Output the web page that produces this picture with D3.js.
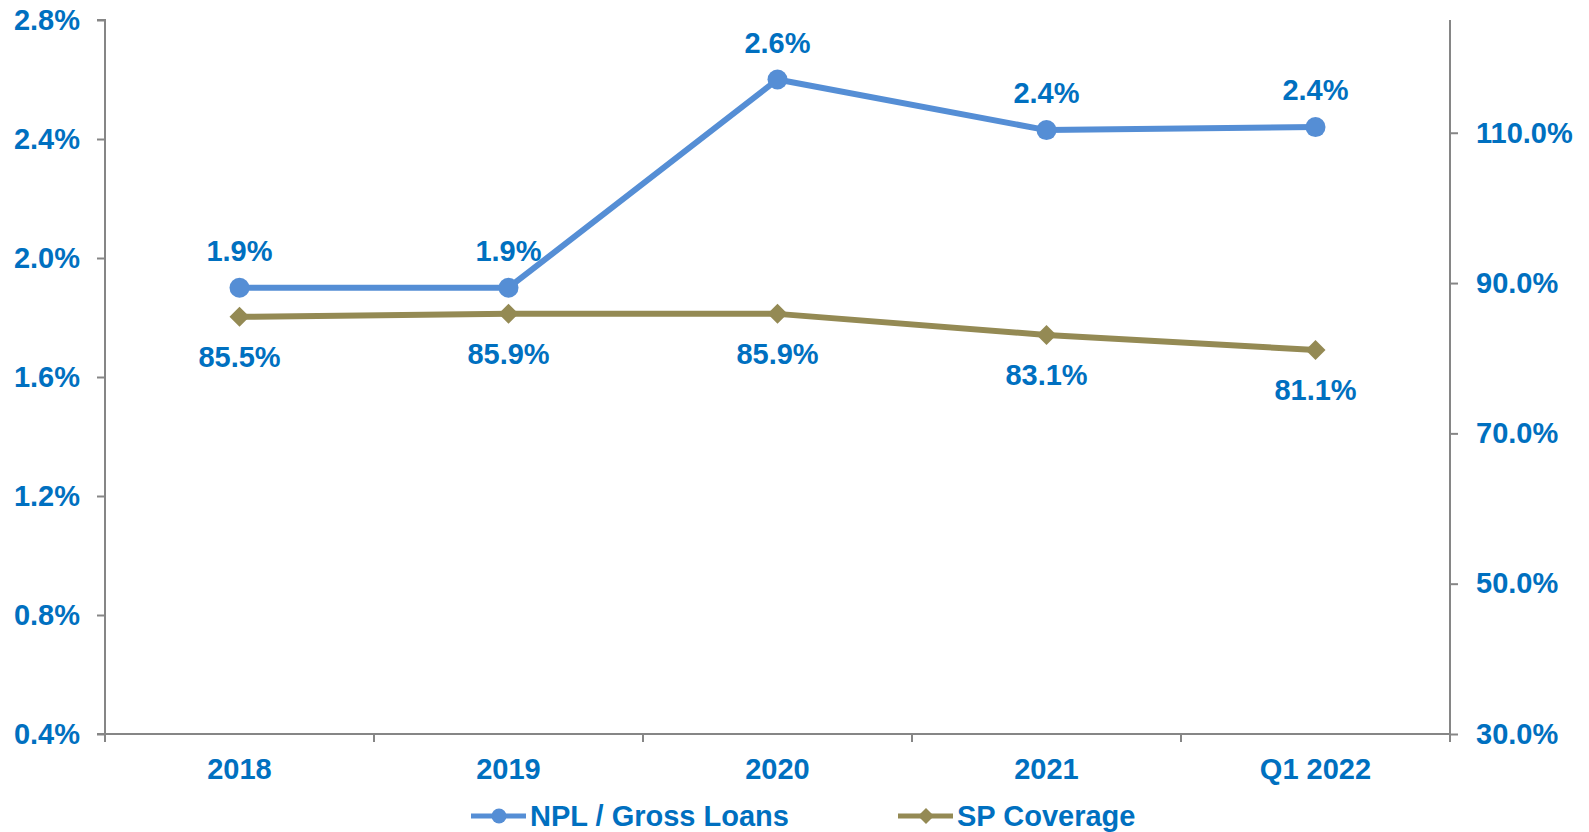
<!DOCTYPE html>
<html>
<head>
<meta charset="utf-8">
<script src="https://cdn.jsdelivr.net/npm/d3@7"></script>
<style>
  html, body { margin: 0; padding: 0; background: #ffffff; }
  svg { display: block; }
  text { font-family: "Liberation Sans", Arial, sans-serif; font-weight: bold; fill: #0070C0; }
</style>
</head>
<body>
<svg id="chart" width="1589" height="832"></svg>
<script>
// ---- data ----
const categories = ["2018", "2019", "2020", "2021", "Q1 2022"];
const nplValues = [1.90, 1.90, 2.60, 2.43, 2.44];       // NPL / Gross Loans (%)
const spValues = [85.5, 85.9, 85.9, 83.1, 81.1];        // SP Coverage (%)
const leftTicks = [0.4, 0.8, 1.2, 1.6, 2.0, 2.4, 2.8];
const rightTicks = [30, 50, 70, 90, 110];
const seriesNames = ["NPL / Gross Loans", "SP Coverage"];

// ---- layout ----
const W = 1589, H = 832;
const plot = { left: 105, right: 1450, top: 20, bottom: 734 };
const blue = "#558ED5", olive = "#948A54", axisGrey = "#868686";
const fontSize = 29;

const svg = d3.select("#chart");

const x = d3.scaleBand().domain(categories).range([plot.left, plot.right]).paddingInner(0).paddingOuter(0);
const yL = d3.scaleLinear().domain([0.4, 2.8]).range([plot.bottom, plot.top]);
const yR = d3.scaleLinear().domain([30, 125]).range([plot.bottom, plot.top]);
const cx = c => x(c) + x.bandwidth() / 2;

// diamond symbol: size = half-diagonal squared
const diamondType = { draw(ctx, size) { const r = Math.sqrt(size); ctx.moveTo(0, -r); ctx.lineTo(r, 0); ctx.lineTo(0, r); ctx.lineTo(-r, 0); ctx.closePath(); } };

// left axis
const leftAxis = d3.axisLeft(yL).tickValues(leftTicks).tickSize(8).tickPadding(17)
  .tickFormat(d => d.toFixed(1) + "%");
const gL = svg.append("g").attr("transform", `translate(${plot.left},0)`).call(leftAxis);
gL.select(".domain").attr("stroke", axisGrey).attr("stroke-width", 2).attr("d", `M-8,${plot.top}H0V${plot.bottom}H-8`);
gL.selectAll(".tick line").attr("stroke", axisGrey).attr("stroke-width", 2);
gL.selectAll(".tick text").attr("font-size", fontSize).attr("fill", "#0070C0").attr("font-family", null);

// right axis
const rightAxis = d3.axisRight(yR).tickValues(rightTicks).tickSize(8).tickPadding(18)
  .tickFormat(d => d.toFixed(1) + "%");
const gR = svg.append("g").attr("transform", `translate(${plot.right},0)`).call(rightAxis);
gR.select(".domain").attr("stroke", axisGrey).attr("stroke-width", 2).attr("d", `M0,${plot.top}V${plot.bottom}`);
gR.selectAll(".tick line").attr("stroke", axisGrey).attr("stroke-width", 2);
gR.selectAll(".tick text").attr("font-size", fontSize).attr("fill", "#0070C0").attr("font-family", null);

// bottom axis (category boundaries as ticks)
const gB = svg.append("g").attr("transform", `translate(0,${plot.bottom})`);
gB.append("line").attr("x1", plot.left).attr("x2", plot.right).attr("y1", 0).attr("y2", 0)
  .attr("stroke", axisGrey).attr("stroke-width", 2);
const boundaries = categories.map(c => x(c)).concat([plot.right]);
gB.selectAll("line.tk").data(boundaries).enter().append("line").attr("class", "tk")
  .attr("x1", d => d).attr("x2", d => d).attr("y1", 0).attr("y2", 8)
  .attr("stroke", axisGrey).attr("stroke-width", 2);
gB.selectAll("text").data(categories).enter().append("text")
  .attr("x", d => cx(d)).attr("y", 35).attr("dy", "0.35em")
  .attr("text-anchor", "middle").attr("font-size", fontSize).text(d => d);

// SP Coverage line (right axis)
const spLine = d3.line().x((d, i) => cx(categories[i])).y(d => yR(d));
svg.append("path").datum(spValues).attr("d", spLine)
  .attr("fill", "none").attr("stroke", olive).attr("stroke-width", 6).attr("stroke-linejoin", "round");
svg.selectAll("path.spm").data(spValues).enter().append("path").attr("class", "spm")
  .attr("d", d3.symbol().type(diamondType).size(100))
  .attr("transform", (d, i) => `translate(${cx(categories[i])},${yR(d)})`)
  .attr("fill", olive);

// NPL line (left axis)
const nplLine = d3.line().x((d, i) => cx(categories[i])).y(d => yL(d));
svg.append("path").datum(nplValues).attr("d", nplLine)
  .attr("fill", "none").attr("stroke", blue).attr("stroke-width", 6).attr("stroke-linejoin", "round");
svg.selectAll("circle.nplm").data(nplValues).enter().append("circle").attr("class", "nplm")
  .attr("cx", (d, i) => cx(categories[i])).attr("cy", d => yL(d)).attr("r", 10)
  .attr("fill", blue);

// data labels
svg.selectAll("text.npl").data(nplValues).enter().append("text").attr("class", "npl")
  .attr("x", (d, i) => cx(categories[i])).attr("y", d => yL(d) - 37).attr("dy", "0.35em")
  .attr("text-anchor", "middle").attr("font-size", fontSize).text(d => d.toFixed(1) + "%");
svg.selectAll("text.sp").data(spValues).enter().append("text").attr("class", "sp")
  .attr("x", (d, i) => cx(categories[i])).attr("y", d => yR(d) + 40).attr("dy", "0.35em")
  .attr("text-anchor", "middle").attr("font-size", fontSize).text(d => d.toFixed(1) + "%");

// legend
const legY = 816;
const leg = svg.append("g");
const items = [
  { name: seriesNames[0], color: blue, x0: 471, marker: "circle" },
  { name: seriesNames[1], color: olive, x0: 898, marker: "diamond" }
];
items.forEach(it => {
  leg.append("line").attr("x1", it.x0).attr("x2", it.x0 + 55).attr("y1", legY).attr("y2", legY)
    .attr("stroke", it.color).attr("stroke-width", 5);
  if (it.marker === "circle") {
    leg.append("circle").attr("cx", it.x0 + 28).attr("cy", legY).attr("r", 7.5).attr("fill", it.color);
  } else {
    leg.append("path").attr("d", d3.symbol().type(diamondType).size(64))
      .attr("transform", `translate(${it.x0 + 28},${legY})`).attr("fill", it.color);
  }
  leg.append("text").attr("x", it.x0 + 59).attr("y", legY).attr("dy", "0.35em")
    .attr("font-size", fontSize).text(it.name);
});
</script>
</body>
</html>
